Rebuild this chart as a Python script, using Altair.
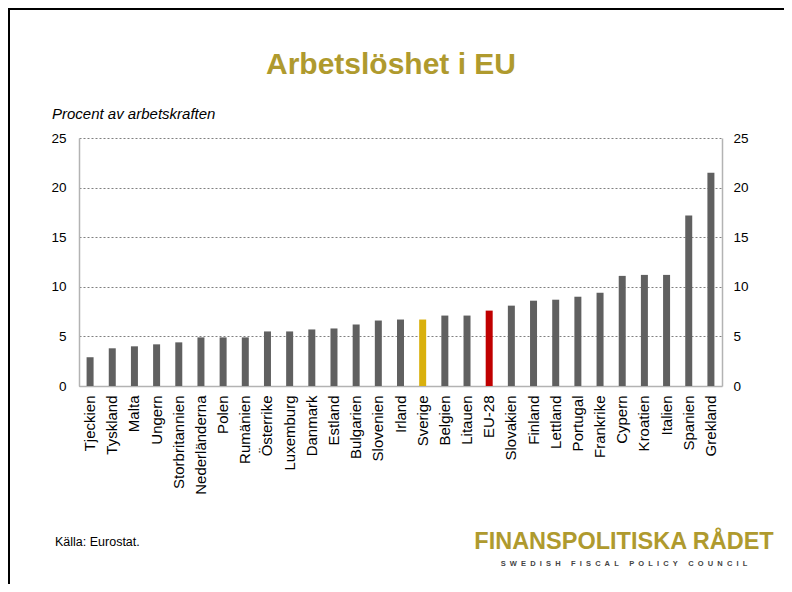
import altair as alt
import pandas as pd

countries = ["Tjeckien", "Tyskland", "Malta", "Ungern", "Storbritannien", "Nederländerna",
             "Polen", "Rumänien", "Österrike", "Luxemburg", "Danmark", "Estland", "Bulgarien",
             "Slovenien", "Irland", "Sverige", "Belgien", "Litauen", "EU-28", "Slovakien",
             "Finland", "Lettland", "Portugal", "Frankrike", "Cypern", "Kroatien", "Italien",
             "Spanien", "Grekland"]
values = [2.9, 3.8, 4.0, 4.2, 4.4, 4.9, 4.9, 4.9, 5.5, 5.5, 5.7, 5.8, 6.2,
          6.6, 6.7, 6.7, 7.1, 7.1, 7.6, 8.1, 8.6, 8.7, 9.0, 9.4, 11.1, 11.2, 11.2,
          17.2, 21.5]
highlight_names = ["Sverige", "EU-28"]
highlight_colors = ["#D9B00C", "#C00000"]
base_color = "#606060"
y_ticks = [0, 5, 10, 15, 20, 25]

title_text = "Arbetslöshet i EU"
subtitle_text = "Procent av arbetskraften"
source_text = "Källa: Eurostat."
logo_text = "FINANSPOLITISKA RÅDET"
logo_words = ["SWEDISH", "FISCAL", "POLICY", "COUNCIL"]

FONT = "Liberation Sans"
GOLD = "#AF9A2E"
NB = "\u00a0"
logo_sub = (NB * 4 + " ").join((NB + " ").join(list(w)) for w in logo_words)

cmap = dict(zip(highlight_names, highlight_colors))
df = pd.DataFrame({"land": countries, "varde": values})
df["farg"] = [cmap.get(c, base_color) for c in countries]

W, H = 643, 248
PL, PT, PR, PB = 71, 130, 62, 198

x_enc = alt.X("land:N", sort=None,
              scale=alt.Scale(paddingInner=0.68, paddingOuter=0.34),
              axis=alt.Axis(title=None, labelAngle=270, labelAlign="right",
                            labelBaseline="middle", labelPadding=9, ticks=False,
                            domainColor="#B3B3B3", domainWidth=1.5, labelFontSize=15,
                            labelColor="black", labelFont=FONT))
y_scale = alt.Scale(domain=[0, 25], nice=False)

bars = alt.Chart(df).mark_bar(size=7).encode(
    x=x_enc,
    y=alt.Y("varde:Q", scale=y_scale,
            axis=alt.Axis(title=None, values=y_ticks, orient="left", ticks=False,
                          labelPadding=13, labelFontSize=13.5, labelColor="black",
                          labelFont=FONT, domainColor="#B3B3B3", domainWidth=1.5,
                          grid=True, gridColor="#808080", gridDash=[2, 2], gridWidth=1)),
    color=alt.Color("farg:N", scale=None, legend=None),
)

right = alt.Chart(df).mark_bar(opacity=0).encode(
    x=x_enc,
    y=alt.Y("varde:Q", scale=y_scale,
            axis=alt.Axis(title=None, values=y_ticks, orient="right", ticks=False,
                          labelPadding=11, labelFontSize=13.5, labelColor="black",
                          labelFont=FONT, domainColor="#B3B3B3", domainWidth=1.5,
                          grid=False)),
)


def txt(s, xpx, ypx, **kw):
    return alt.Chart(pd.DataFrame({"t": [s]})).mark_text(font=FONT, **kw).encode(
        text="t:N", x=alt.value(xpx), y=alt.value(ypx))


title = txt(title_text, 391 - 8 - PL, 74 - 8 - PT, fontSize=30, fontWeight="bold",
            color=GOLD, align="center", baseline="alphabetic")
subtitle = txt(subtitle_text, 52 - 8 - PL, 119 - 8 - PT, fontSize=15, fontStyle="italic",
               color="black", align="left", baseline="alphabetic")
source = txt(source_text, 55 - 8 - PL, 546 - 8 - PT, fontSize=12.5, color="black",
             align="left", baseline="alphabetic")
logo = txt(logo_text, 624 - 8 - PL, 549 - 8 - PT, fontSize=23.5, fontWeight="bold",
           color=GOLD, align="center", baseline="alphabetic")
logo2 = txt(logo_sub, 624 - 8 - PL, 566 - 8 - PT, fontSize=7.5, fontWeight="bold",
            color="#444444", align="center", baseline="alphabetic")

frame_df = pd.DataFrame({"a": [0]})
top_line = alt.Chart(frame_df).mark_rule(color="black", strokeWidth=2).encode(
    x=alt.value(-PL), x2=alt.value(776 - PL), y=alt.value(-PT + 1))
left_line = alt.Chart(frame_df).mark_rule(color="black", strokeWidth=2).encode(
    x=alt.value(-PL + 1), y=alt.value(-PT), y2=alt.value(576 - PT))

chart = alt.layer(bars, right, title, subtitle, source, logo, logo2, top_line, left_line).resolve_axis(
    y="independent"
).properties(
    width=W, height=H,
    autosize=alt.AutoSizeParams(type="none"),
    padding={"left": PL, "top": PT, "right": PR, "bottom": PB},
    background="white",
).configure_view(stroke=None)

chart.save("out.html", embed_options={"renderer": "svg", "actions": False})
